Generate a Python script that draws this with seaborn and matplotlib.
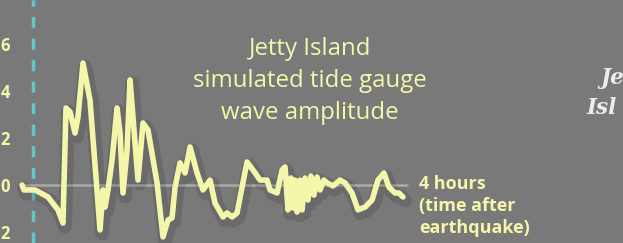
import matplotlib
matplotlib.use("Agg")
import matplotlib.pyplot as plt
import matplotlib.patheffects as pe
import pandas as pd
import seaborn as sns

# minutes after the earthquake
minutes = [-7.0, -5.8, 1.3, 9.6, 16.0, 19.2, 21.1, 23.7, 26.9, 28.8, 32.0, 36.5,
           42.9, 44.8, 46.1, 48.0, 50.6, 53.8, 55.7, 57.6, 60.2, 62.1, 64.0, 67.2,
           70.4, 73.6, 79.4, 83.2, 86.4, 89.0, 90.9, 94.1, 97.3, 100.5, 105.0,
           108.8, 113.3, 116.5, 121.6, 124.2, 127.4, 130.6, 133.8, 137.0, 140.8,
           145.3, 149.8, 151.7, 156.2, 159.4, 161.3, 163.2, 165.1, 166.4, 167.7,
           169.0, 170.9, 172.2, 174.1, 176.0, 177.9, 179.8, 181.8, 183.7, 186.2,
           188.2, 192.0, 196.5, 199.7, 204.2, 208.0, 212.5, 217.0, 220.8, 224.6,
           227.8, 231.7, 234.2, 236.8]
amplitude = [0.0, -0.21, -0.21, -0.51, -1.06, -1.62, 3.28, 3.11, 2.21, 2.89, 5.19, 3.6,
             -1.91, -0.21, -0.94, -0.21, 1.06, 3.28, 2.21, -0.34, 1.49, 4.47, 2.89, 0.21,
             2.64, 2.34, 0.09, -2.21, -1.49, -1.40, -0.09, 0.94, 0.51, 1.62, 0.51,
             -0.21, 0.21, -0.77, -1.36, -1.19, -1.36, -1.19, -0.09, 0.98, 0.64,
             0.21, 0.21, -0.21, -0.34, 0.64, 0.77, -1.06, 0.30, -0.98, 0.21,
             -1.15, 0.21, -1.06, 0.30, -0.64, 0.38, -0.43, 0.34, -0.21, 0.21,
             0.09, -0.04, 0.21, 0.09, -0.34, -1.06, -0.94, -0.64, 0.21, 0.51,
             -0.09, -0.34, -0.34, -0.51]

ytick_values = [-2, 0, 2, 4, 6]
ytick_labels = ["2", "0", "2", "4", "6"]

title = "Jetty Island\nsimulated tide gauge\nwave amplitude"
end_label = "4 hours\n(time after\nearthquake)"
side_label = ["Je", "Isl"]

bg = "#797979"
yellow = "#f4f7aa"
cyan = "#63c6c9"

df = pd.DataFrame({"minutes": minutes, "amplitude": amplitude})

sns.set_style("dark")
plt.rcParams["font.family"] = ["Open Sans", "DejaVu Sans"]

W, H = 623, 243
fig = plt.figure(figsize=(W / 100, H / 100), dpi=100, facecolor=bg)
left = 12
ax = fig.add_axes([left / W, 0, (W - left) / W, 1])
ax.set_facecolor(bg)

shadow = [pe.SimpleLineShadow(offset=(1.5, -2.5), shadow_color="black", alpha=0.12,
                              linewidth=10), pe.Normal()]

ax.hlines(0, -8.3, 240, color="#aaaaaa", lw=1.8, zorder=1)
ax.axvline(0, color=cyan, lw=2.5, linestyle=(0, (3.2, 3.0)), zorder=1)

sns.lineplot(data=df, x="minutes", y="amplitude", ax=ax, color=yellow, lw=4,
             estimator=None, sort=False, zorder=3, path_effects=shadow)

# 33 px -> 0 min, 0.64 min per px ; 185 px -> 0, 23.5 px per unit
ax.set_xlim((left - 33) * 0.64, (W - 33) * 0.64)
ax.set_ylim(-(H - 185) / 23.5, 185 / 23.5)
ax.set_yticks(ytick_values, ytick_labels)
ax.set_xticks([])
ax.set_xlabel("")
ax.set_ylabel("")
ax.tick_params(axis="y", length=0, pad=1.5, labelsize=12, labelcolor=yellow)
for lab in ax.get_yticklabels():
    lab.set_fontweight("bold")
for s in ax.spines.values():
    s.set_visible(False)
ax.grid(False)

ax.text((310 - 33) * 0.64, (185 - 81) / 23.5, title, ha="center", va="center",
        color=yellow, fontsize=17.3, linespacing=1.42)

ax.text((419 - 33) * 0.64, (185 - 175) / 23.5, end_label, ha="left", va="top",
        color=yellow, fontsize=13, fontweight="bold", linespacing=1.28)

fig.text(600 / W, 1 - 78 / H, side_label[0], ha="left", va="center",
         color="#ececec", fontsize=15.5, fontweight="bold", style="italic",
         family="DejaVu Serif")
fig.text(587 / W, 1 - 108 / H, side_label[1], ha="left", va="center",
         color="#ececec", fontsize=15.5, fontweight="bold", style="italic",
         family="DejaVu Serif")

fig.savefig("out.png", dpi=100, facecolor=bg)
